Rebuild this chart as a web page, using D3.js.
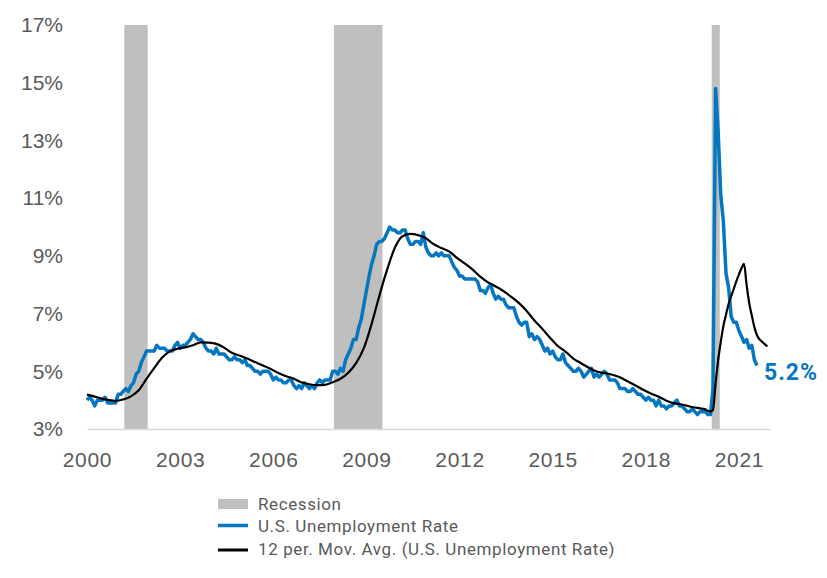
<!DOCTYPE html>
<html>
<head>
<meta charset="utf-8">
<script src="https://cdn.jsdelivr.net/npm/d3@7"></script>
<style>
  body { margin: 0; background: #fff; }
  svg { font-family: Roboto, "DejaVu Sans", sans-serif; }
  .axis text { fill: #595959; font-size: 21px; }
  .x.axis text { letter-spacing: 0.7px; }
  .legend text { fill: #595959; font-size: 17px; letter-spacing: 0.6px; }
</style>
</head>
<body>
<div id="chart"></div>
<script>
// monthly U.S. unemployment rate, Jan 2000 .. Aug 2021
const rateStart = '2000-01';
const unemploymentRate = [
  4.0, 4.1, 4.0, 3.8, 4.0, 4.0, 4.0, 4.1, 3.9, 3.9, 3.9, 3.9,
  4.2, 4.2, 4.3, 4.4, 4.3, 4.5, 4.6, 4.9, 5.0, 5.3, 5.5, 5.7,
  5.7, 5.7, 5.7, 5.9, 5.8, 5.8, 5.8, 5.7, 5.7, 5.7, 5.9, 6.0,
  5.8, 5.9, 5.9, 6.0, 6.1, 6.3, 6.2, 6.1, 6.1, 6.0, 5.8, 5.7,
  5.7, 5.6, 5.8, 5.6, 5.6, 5.6, 5.5, 5.4, 5.4, 5.5, 5.4, 5.4,
  5.3, 5.4, 5.2, 5.2, 5.1, 5.0, 5.0, 4.9, 5.0, 5.0, 5.0, 4.9,
  4.7, 4.8, 4.7, 4.7, 4.6, 4.6, 4.7, 4.7, 4.5, 4.4, 4.5, 4.4,
  4.6, 4.5, 4.4, 4.5, 4.4, 4.6, 4.7, 4.6, 4.7, 4.7, 4.7, 5.0,
  5.0, 4.9, 5.1, 5.0, 5.4, 5.6, 5.8, 6.1, 6.1, 6.5, 6.8, 7.3,
  7.8, 8.3, 8.7, 9.0, 9.4, 9.5, 9.5, 9.6, 9.8, 10.0, 9.9, 9.9,
  9.8, 9.8, 9.9, 9.9, 9.6, 9.4, 9.4, 9.5, 9.5, 9.4, 9.8, 9.3,
  9.1, 9.0, 9.0, 9.1, 9.0, 9.1, 9.0, 9.0, 9.0, 8.8, 8.6, 8.5,
  8.3, 8.3, 8.2, 8.2, 8.2, 8.2, 8.2, 8.1, 7.8, 7.8, 7.7, 7.9,
  8.0, 7.7, 7.5, 7.6, 7.5, 7.5, 7.3, 7.2, 7.2, 7.2, 6.9, 6.7,
  6.6, 6.7, 6.7, 6.2, 6.3, 6.1, 6.2, 6.1, 5.9, 5.7, 5.8, 5.6,
  5.7, 5.5, 5.4, 5.4, 5.6, 5.3, 5.2, 5.1, 5.0, 5.0, 5.1, 5.0,
  4.8, 4.9, 5.0, 5.1, 4.8, 4.9, 4.8, 4.9, 5.0, 4.9, 4.7, 4.7,
  4.7, 4.6, 4.4, 4.4, 4.4, 4.3, 4.3, 4.4, 4.3, 4.2, 4.2, 4.1,
  4.0, 4.1, 4.0, 4.0, 3.8, 4.0, 3.8, 3.8, 3.7, 3.8, 3.8, 3.9,
  4.0, 3.8, 3.8, 3.7, 3.6, 3.6, 3.7, 3.6, 3.5, 3.6, 3.6, 3.6,
  3.5, 3.5, 4.4, 14.8, 13.3, 11.1, 10.2, 8.4, 7.9, 6.9, 6.7, 6.7,
  6.4, 6.2, 6.0, 6.1, 5.8, 5.9, 5.4, 5.2
];

// 12 period moving average
const maDates = [
  '2000-01', '2000-03', '2000-06', '2000-09', '2000-12',
  '2001-03', '2001-06', '2001-09', '2001-12',
  '2002-03', '2002-06', '2002-09', '2002-12',
  '2003-03', '2003-06', '2003-09', '2003-12',
  '2004-03', '2004-06', '2004-09', '2004-12',
  '2005-03', '2005-06', '2005-09', '2005-12',
  '2006-03', '2006-06', '2006-09', '2006-12',
  '2007-03', '2007-06', '2007-09', '2007-12',
  '2008-03', '2008-06', '2008-09', '2008-12',
  '2009-03', '2009-06', '2009-09', '2009-12',
  '2010-03', '2010-06', '2010-09', '2010-12',
  '2011-03', '2011-06', '2011-09', '2011-12',
  '2012-03', '2012-06', '2012-09', '2012-12',
  '2013-03', '2013-06', '2013-09', '2013-12',
  '2014-03', '2014-06', '2014-09', '2014-12',
  '2015-03', '2015-06', '2015-09', '2015-12',
  '2016-03', '2016-06', '2016-09', '2016-12',
  '2017-03', '2017-06', '2017-09', '2017-12',
  '2018-03', '2018-06', '2018-09', '2018-12',
  '2019-03', '2019-06', '2019-09', '2019-12',
  '2020-01', '2020-02', '2020-03', '2020-04', '2020-05', '2020-06',
  '2020-07', '2020-08', '2020-09', '2020-10', '2020-11', '2020-12',
  '2021-01', '2021-02', '2021-03', '2021-04', '2021-05', '2021-06',
  '2021-07', '2021-08', '2021-09', '2021-10', '2021-11', '2021-12'
];
const maValues = [
  4.19, 4.15, 4.07, 4.01, 3.97,
  4.02, 4.13, 4.34, 4.74,
  5.11, 5.47, 5.69, 5.78,
  5.83, 5.90, 6.00, 5.99,
  5.95, 5.82, 5.64, 5.54,
  5.44, 5.32, 5.20, 5.08,
  4.94, 4.83, 4.74, 4.61,
  4.55, 4.52, 4.53, 4.62,
  4.74, 4.95, 5.28, 5.80,
  6.62, 7.61, 8.52, 9.28,
  9.68, 9.76, 9.72, 9.61,
  9.41, 9.27, 9.15, 8.93,
  8.74, 8.53, 8.28, 8.08,
  7.94, 7.78, 7.58, 7.36,
  7.09, 6.76, 6.47, 6.16,
  5.88, 5.68, 5.44, 5.28,
  5.12, 4.99, 4.94, 4.88,
  4.79, 4.65, 4.51, 4.36,
  4.23, 4.12, 3.98, 3.89,
  3.85, 3.78, 3.73, 3.68,
  3.63, 3.61, 3.66, 4.58, 5.39, 6.02,
  6.56, 6.96, 7.33, 7.60, 7.86, 8.12,
  8.36, 8.58, 8.72, 7.99, 7.37, 6.93,
  6.53, 6.25, 6.10, 6.02, 5.94, 5.86
];

const recessionStart = ['2001-03-15', '2007-12-15', '2020-02-15'];
const recessionEnd = ['2001-12-15', '2009-07-08', '2020-05-20'];

const yearTicks = [2000, 2003, 2006, 2009, 2012, 2015, 2018, 2021];
const pctTicks = [3, 5, 7, 9, 11, 13, 15, 17];

const legendLabels = ['Recession', 'U.S. Unemployment Rate', '12 per. Mov. Avg. (U.S. Unemployment Rate)'];

const blue = '#0577c1';
const width = 827;
const height = 578;
const margin = { top: 25, right: 57, bottom: 149, left: 87 };

const parseMonth = d3.timeParse('%Y-%m');
const parseDay = d3.timeParse('%Y-%m-%d');

const start = parseMonth(rateStart);
const rateData = unemploymentRate.map((v, i) => ({ date: d3.timeMonth.offset(start, i), value: v }));
const maData = maDates.map((d, i) => ({ date: parseMonth(d), value: maValues[i] }));

const svg = d3.select('#chart')
  .append('svg')
  .attr('width', width)
  .attr('height', height);

/* Scales */
const x = d3.scaleTime()
  .domain([new Date(2000, 0, 1), new Date(2022, 0, 1)])
  .range([margin.left, width - margin.right]);

const y = d3.scaleLinear()
  .domain([3, 17])
  .range([height - margin.bottom, margin.top]);

/* Recession bars */
svg.append('g')
  .selectAll('rect')
  .data(recessionStart)
  .enter()
  .append('rect')
  .attr('x', (d) => x(parseDay(d)))
  .attr('width', (d, i) => x(parseDay(recessionEnd[i])) - x(parseDay(d)))
  .attr('y', y(17))
  .attr('height', y(3) - y(17))
  .style('fill', '#bfbfbf');

/* Axes */
const xAxis = d3.axisBottom(x)
  .tickValues(yearTicks.map(yr => new Date(yr, 0, 1)))
  .tickFormat(d3.timeFormat('%Y'))
  .tickSize(0)
  .tickSizeOuter(0)
  .tickPadding(23);

svg.append('g')
  .attr('class', 'x axis')
  .attr('transform', `translate(0, ${y(3)})`)
  .call(xAxis)
  .call(g => g.select('.domain').attr('stroke', '#d9d9d9').attr('stroke-width', 1.5));

const yAxis = d3.axisLeft(y)
  .tickValues(pctTicks)
  .tickFormat(d => d + '%')
  .tickSize(0)
  .tickPadding(24);

svg.append('g')
  .attr('class', 'y axis')
  .attr('transform', `translate(${margin.left}, 0)`)
  .call(yAxis)
  .call(g => g.select('.domain').remove());

svg.selectAll('.axis text').attr('font-family', null).attr('font-size', null);

/* Lines */
const rateLine = d3.line()
  .x(d => x(d.date))
  .y(d => y(d.value));

const maLine = d3.line()
  .curve(d3.curveMonotoneX)
  .x(d => x(d.date))
  .y(d => y(d.value));

svg.append('path')
  .datum(rateData)
  .attr('d', rateLine)
  .style('fill', 'none')
  .style('stroke', blue)
  .style('stroke-width', 3.5)
  .style('stroke-linejoin', 'round');

svg.append('path')
  .datum(maData)
  .attr('d', maLine)
  .style('fill', 'none')
  .style('stroke', '#000')
  .style('stroke-width', 2.2)
  .style('stroke-linejoin', 'round');

/* Last value label */
const last = rateData[rateData.length - 1];
svg.append('text')
  .attr('x', x(last.date) + 7)
  .attr('y', y(last.value) + 14)
  .style('fill', blue)
  .style('font-size', '23px')
  .style('font-weight', 'bold')
  .style('letter-spacing', '1px')
  .text(last.value.toFixed(1) + '%');

/* Legend */
const legend = svg.append('g')
  .attr('class', 'legend')
  .attr('transform', 'translate(218, 504)');

legend.append('rect')
  .attr('x', 0)
  .attr('y', -5)
  .attr('width', 30)
  .attr('height', 10)
  .style('fill', '#bfbfbf');

legend.append('line')
  .attr('x1', 0).attr('x2', 30)
  .attr('y1', 21.5).attr('y2', 21.5)
  .style('stroke', blue)
  .style('stroke-width', 3.5);

legend.append('line')
  .attr('x1', 0).attr('x2', 30)
  .attr('y1', 46).attr('y2', 46)
  .style('stroke', '#000')
  .style('stroke-width', 3);

legend.selectAll('text')
  .data(legendLabels)
  .enter()
  .append('text')
  .attr('x', 40)
  .attr('y', (_, i) => i * 22.5)
  .attr('dy', '0.35em')
  .text(d => d);
</script>
</body>
</html>
